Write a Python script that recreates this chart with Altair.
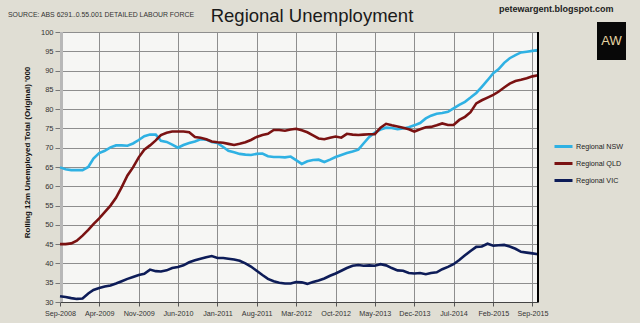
import altair as alt
import pandas as pd

# ---------------- data ----------------
START = "2008-09-01"
N_MONTHS = 86  # Sep-2008 .. Oct-2015

nsw = [64.9, 64.4, 64.2, 64.2, 64.2, 65.0, 67.2, 68.6, 69.2, 70.1,
       70.6, 70.6, 70.5, 71.1, 72.0, 73.0, 73.4, 73.4, 71.8, 71.5,
       70.8, 70.0, 70.7, 71.2, 71.6, 72.2, 72.1, 71.5, 71.2, 70.2,
       69.2, 68.8, 68.4, 68.2, 68.1, 68.4, 68.5, 67.8, 67.6, 67.6,
       67.5, 67.7, 66.8, 65.8, 66.5, 66.8, 66.9, 66.3, 66.9, 67.6,
       68.1, 68.6, 69.0, 69.5, 71.1, 72.8, 73.9, 74.7, 75.2, 75.1,
       74.8, 75.0, 75.3, 75.8, 76.4, 77.6, 78.3, 78.8, 79.0, 79.3,
       80.2, 81.1, 81.9, 83.0, 84.2, 85.8, 87.5, 89.3, 90.3, 92.0,
       93.2, 94.0, 94.7, 94.9, 95.1, 95.3]

qld = [45.0, 45.0, 45.2, 45.9, 47.2, 48.7, 50.2, 51.7, 53.3, 55.0,
       57.0, 59.8, 62.8, 64.9, 67.5, 69.5, 70.6, 71.9, 73.3, 73.9,
       74.2, 74.2, 74.2, 74.0, 72.8, 72.6, 72.2, 71.6, 71.4, 71.3,
       71.0, 70.7, 71.0, 71.4, 72.0, 72.8, 73.3, 73.6, 74.6, 74.6,
       74.4, 74.7, 74.9, 74.5, 74.0, 73.2, 72.4, 72.2, 72.6, 72.9,
       72.6, 73.6, 73.4, 73.3, 73.4, 73.5, 73.5, 75.2, 76.2, 75.8,
       75.5, 75.2, 74.8, 74.2, 74.8, 75.3, 75.4, 75.8, 76.3, 75.9,
       75.9, 77.2, 78.0, 79.2, 81.5, 82.3, 83.0, 83.7, 84.5, 85.6,
       86.6, 87.3, 87.6, 88.0, 88.5, 88.8]

vic = [31.5, 31.3, 31.0, 30.8, 30.9, 32.2, 33.1, 33.6, 34.0, 34.3,
       34.8, 35.4, 36.0, 36.5, 37.0, 37.3, 38.4, 38.0, 37.9, 38.2,
       38.8, 39.1, 39.5, 40.3, 40.8, 41.2, 41.6, 41.9, 41.4, 41.4,
       41.2, 41.0, 40.7, 40.0, 39.2, 38.1, 37.0, 36.0, 35.4, 35.0,
       34.8, 34.8, 35.2, 35.1, 34.7, 35.2, 35.6, 36.1, 36.8, 37.4,
       38.1, 38.8, 39.4, 39.6, 39.4, 39.5, 39.4, 39.8, 39.5, 38.8,
       38.2, 38.1, 37.5, 37.4, 37.5, 37.2, 37.5, 37.7, 38.5, 39.1,
       39.8, 40.9, 42.1, 43.2, 44.3, 44.4, 45.1, 44.6, 44.7, 44.8,
       44.4, 43.8, 43.0, 42.8, 42.6, 42.4]

series_names = ["Regional NSW", "Regional QLD", "Regional VIC"]
series_colors = ["#2fb1e3", "#7a1212", "#0d1c58"]

x_tick_dates = [(2008, 9), (2009, 4), (2009, 11), (2010, 6), (2011, 1),
                (2011, 8), (2012, 3), (2012, 10), (2013, 5), (2013, 12),
                (2014, 7), (2015, 2), (2015, 9)]
y_ticks = list(range(30, 101, 5))

title_text = "Regional Unemployment"
source_text = "SOURCE: ABS 6291..0.55.001 DETAILED LABOUR FORCE"
blog_text = "petewargent.blogspot.com"
y_title = "Rolling 12m Unemployed Total (Original) '000"

# ---------------- table ----------------
dates = pd.date_range(START, periods=N_MONTHS, freq="MS").strftime("%Y-%m-%d")
frames = []
for name, vals in zip(series_names, [nsw, qld, vic]):
    frames.append(pd.DataFrame({"date": dates, "value": vals, "series": name}))
df = pd.concat(frames, ignore_index=True)

SANS = "'Liberation Sans', Arial, sans-serif"

W, H = 478, 270
GRID = "#8e8e8e"

x_enc = alt.X(
    "date:T",
    scale=alt.Scale(type="utc",
                    domain=[alt.DateTime(year=2008, month=9, date=1, utc=True),
                            alt.DateTime(year=2015, month=10, date=1, utc=True)]),
    axis=alt.Axis(
        values=[alt.DateTime(year=y, month=m, date=1, utc=True) for y, m in x_tick_dates],
        labelExpr="utcFormat(datum.value, '%b-%Y')", title=None,
        labelFont=SANS, labelFontSize=7.2, labelColor="#333333",
        labelFlush=False, labelOverlap=False, labelPadding=3,
        tickSize=4, tickColor="#555555", domainColor="#444444",
        grid=True, gridColor=GRID, gridWidth=1,
    ),
)
y_enc = alt.Y(
    "value:Q",
    scale=alt.Scale(domain=[30, 100], nice=False, zero=False),
    axis=alt.Axis(
        values=y_ticks, title=y_title,
        labelFont=SANS, labelFontSize=7.5, labelColor="#333333", labelPadding=2,
        tickSize=5, tickColor="#777777", domainColor="#888888",
        grid=True, gridColor=GRID, gridWidth=1,
        titleFont=SANS, titleFontSize=8, titleFontWeight="bold", titleColor="#111111",
        titleX=-33, titleY=120, titleAngle=270, titleAlign="center", titleBaseline="middle",
    ),
)

lines = alt.Chart(df).mark_line(strokeWidth=2.6).encode(
    x=x_enc,
    y=y_enc,
    color=alt.Color(
        "series:N",
        scale=alt.Scale(domain=series_names, range=series_colors),
        legend=alt.Legend(
            title=None, orient="none", legendX=493, legendY=104,
            symbolType="stroke", symbolSize=324, symbolStrokeWidth=3,
            labelFont=SANS, labelFontSize=7.2, labelColor="#222222",
            labelOffset=2, rowPadding=0, padding=0,
        ),
    ),
)

right_border = alt.Chart(pd.DataFrame({"k": [0]})).mark_rule(color="#000000", strokeWidth=2).encode(
    x=alt.value(W), y=alt.value(0), y2=alt.value(H)
)
left_shadow = alt.Chart(pd.DataFrame({"k": [0]})).mark_rule(color="#b8b8b8", strokeWidth=3).encode(
    x=alt.value(1.5), y=alt.value(0), y2=alt.value(H)
)

title = alt.Chart(pd.DataFrame({"t": [title_text]})).mark_text(
    font=SANS, fontSize=18.5, color="#1a1a1a", align="center", baseline="alphabetic"
).encode(text="t:N", x=alt.value(252), y=alt.value(-10))

source = alt.Chart(pd.DataFrame({"t": [source_text]})).mark_text(
    font=SANS, fontSize=6.9, color="#333333", align="left", baseline="middle"
).encode(text="t:N", x=alt.value(-52), y=alt.value(-17))

blog = alt.Chart(pd.DataFrame({"t": [blog_text]})).mark_text(
    font=SANS, fontSize=9, fontWeight="bold", color="#222222", align="left", baseline="middle"
).encode(text="t:N", x=alt.value(439), y=alt.value(-23))

logo = alt.Chart(pd.DataFrame({"k": [0]})).mark_rect(color="#080808").encode(
    x=alt.value(537), x2=alt.value(566), y=alt.value(-10), y2=alt.value(28)
)
logo_text = alt.Chart(pd.DataFrame({"t": ["AW"]})).mark_text(
    font=SANS, fontSize=13, color="#e6d6a4", align="center", baseline="middle"
).encode(text="t:N", x=alt.value(551.5), y=alt.value(9))

chart = alt.layer(left_shadow, lines, right_border, title, source, blog, logo, logo_text).properties(
    width=W, height=H,
    autosize=alt.AutoSizeParams(type="none"),
    padding={"left": 60, "top": 32, "right": 102, "bottom": 21},
    background="#e0ded4",
).configure_view(fill="#f6f6f4", stroke="#8a8a8a", strokeWidth=1)

chart.save("out.html", embed_options={"renderer": "svg", "actions": False})
